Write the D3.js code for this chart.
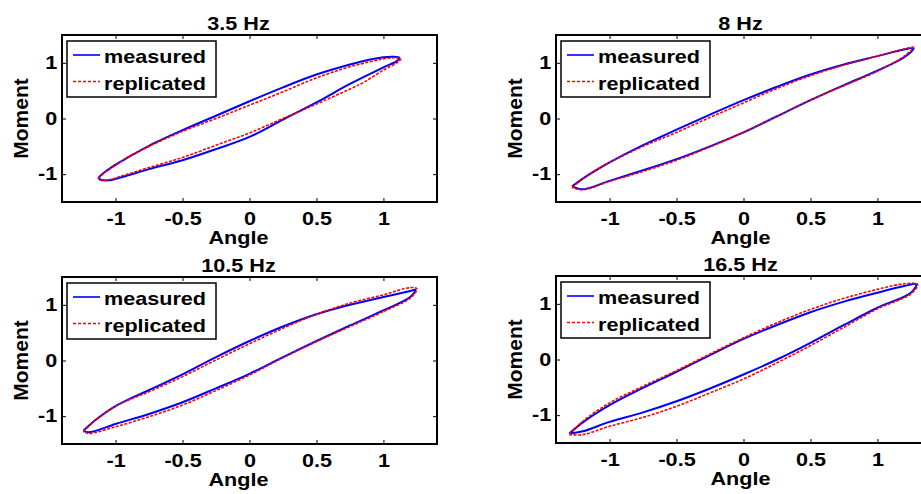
<!DOCTYPE html>
<html>
<head>
<meta charset="utf-8">
<script src="https://cdn.jsdelivr.net/npm/d3@7"></script>
<style>
  body { margin: 0; background: #fff; }
  svg text { font-family: "Liberation Sans", Arial, Helvetica, sans-serif; font-weight: bold; fill: #000; }
</style>
</head>
<body>
<div id="chart"></div>
<script>
// panel titles, ticks and series labels
titles = ["3.5 Hz", "8 Hz", "10.5 Hz", "16.5 Hz"]
xTicks = [-1, -0.5, 0, 0.5, 1]
yTicks = [-1, 0, 1]
xDomain = [-1.4, 1.4]
yDomain = [-1.5, 1.5]
seriesNames = ["measured", "replicated"]

// loops: [angle, moment], left tip -> upper branch -> right tip -> lower branch -> left tip
measured35 = [[-1.13,-1.07],[-1.09,-0.98],[-1.02,-0.86],[-0.9,-0.69],[-0.75,-0.49],[-0.5,-0.21],[-0.25,0.05],[0,0.31],[0.25,0.56],[0.5,0.79],[0.75,0.97],[0.9,1.06],[1.0,1.1],[1.07,1.11],[1.12,1.09],
  [1.1,1.03],[1.0,0.92],[0.75,0.62],[0.5,0.29],[0.25,-0.02],[0,-0.33],[-0.25,-0.55],[-0.5,-0.75],[-0.75,-0.91],[-0.95,-1.05],[-1.05,-1.11],[-1.11,-1.1],[-1.13,-1.07]]
replicated35 = [[-1.13,-1.08],[-1.08,-0.97],[-1.0,-0.84],[-0.9,-0.68],[-0.75,-0.5],[-0.5,-0.23],[-0.25,0.0],[0,0.24],[0.25,0.48],[0.5,0.73],[0.75,0.93],[0.9,1.02],[1.0,1.07],[1.08,1.09],[1.13,1.07],
  [1.1,1.0],[1.0,0.87],[0.86,0.66],[0.75,0.53],[0.5,0.26],[0.25,0.0],[0,-0.26],[-0.25,-0.48],[-0.5,-0.7],[-0.75,-0.88],[-0.95,-1.03],[-1.05,-1.1],[-1.11,-1.11],[-1.13,-1.08]]

measured8 = [[-1.28,-1.22],[-1.2,-1.08],[-1.1,-0.93],[-1.0,-0.79],[-0.75,-0.48],[-0.5,-0.2],[-0.25,0.07],[0,0.33],[0.25,0.57],[0.5,0.79],[0.75,0.97],[1.0,1.12],[1.2,1.24],[1.27,1.26],
  [1.2,1.1],[1.0,0.86],[0.75,0.6],[0.5,0.33],[0.25,0.04],[0,-0.25],[-0.25,-0.5],[-0.5,-0.73],[-0.75,-0.93],[-1.0,-1.12],[-1.2,-1.27],[-1.28,-1.22]]
replicated8 = [[-1.28,-1.24],[-1.2,-1.08],[-1.1,-0.92],[-1.0,-0.79],[-0.75,-0.5],[-0.5,-0.25],[-0.25,0.02],[0,0.28],[0.25,0.54],[0.5,0.77],[0.75,0.96],[1.0,1.12],[1.2,1.25],[1.27,1.28],
  [1.2,1.12],[1.0,0.85],[0.75,0.59],[0.5,0.33],[0.25,0.04],[0,-0.25],[-0.25,-0.51],[-0.5,-0.75],[-0.75,-0.95],[-1.0,-1.13],[-1.2,-1.28],[-1.28,-1.24]]

measured105 = [[-1.24,-1.26],[-1.15,-1.07],[-1.0,-0.82],[-0.75,-0.53],[-0.5,-0.25],[-0.25,0.06],[0,0.35],[0.25,0.61],[0.5,0.83],[0.75,1.0],[1.0,1.14],[1.2,1.25],[1.24,1.27],
  [1.2,1.14],[1.0,0.9],[0.75,0.63],[0.5,0.35],[0.25,0.06],[0,-0.24],[-0.25,-0.5],[-0.5,-0.75],[-0.75,-0.96],[-1.0,-1.14],[-1.2,-1.29],[-1.24,-1.26]]
replicated105 = [[-1.24,-1.28],[-1.15,-1.07],[-1.0,-0.82],[-0.75,-0.56],[-0.5,-0.29],[-0.25,0.01],[0,0.3],[0.25,0.58],[0.5,0.83],[0.75,1.03],[1.0,1.18],[1.2,1.31],[1.25,1.29],
  [1.2,1.12],[1.0,0.88],[0.75,0.61],[0.5,0.34],[0.25,0.05],[0,-0.26],[-0.25,-0.54],[-0.5,-0.8],[-0.75,-1.01],[-1.0,-1.19],[-1.2,-1.31],[-1.24,-1.28]]

measured165 = [[-1.3,-1.33],[-1.2,-1.13],[-1.0,-0.82],[-0.75,-0.51],[-0.5,-0.22],[-0.25,0.08],[0,0.37],[0.25,0.62],[0.5,0.85],[0.75,1.04],[1.0,1.2],[1.2,1.32],[1.29,1.35],
  [1.25,1.2],[1.0,0.93],[0.75,0.62],[0.5,0.3],[0.25,0.0],[0,-0.27],[-0.25,-0.52],[-0.5,-0.75],[-0.75,-0.95],[-1.0,-1.12],[-1.2,-1.29],[-1.3,-1.33]]
replicated165 = [[-1.3,-1.35],[-1.2,-1.11],[-1.0,-0.78],[-0.75,-0.48],[-0.5,-0.2],[-0.25,0.1],[0,0.39],[0.25,0.66],[0.5,0.9],[0.75,1.1],[1.0,1.26],[1.2,1.36],[1.3,1.35],
  [1.25,1.18],[1.0,0.91],[0.75,0.58],[0.5,0.25],[0.25,-0.06],[0,-0.35],[-0.25,-0.6],[-0.5,-0.84],[-0.75,-1.04],[-1.0,-1.2],[-1.2,-1.35],[-1.3,-1.35]]

measuredLoops = [measured35, measured8, measured105, measured165]
replicatedLoops = [replicated35, replicated8, replicated105, replicated165]

width = 921
height = 494
axW = 375
axH = 167
boxes = [{left: 62, top: 35}, {left: 556, top: 35}, {left: 62, top: 277}, {left: 556, top: 276}]
centerShift = [-11, -3, -11, -3]
// horizontal text in the figure is wide and short
stretch = "scale(1.2,1)"
textSize = "18px"

svg = d3.select("#chart").append("svg")
  .attr("width", width)
  .attr("height", height)
  .attr("viewBox", [0, 0, width, height])

boxes.forEach((b, i) => {
  x = d3.scaleLinear().domain(xDomain).range([b.left, b.left + axW])
  y = d3.scaleLinear().domain(yDomain).range([b.top + axH, b.top])
  g = svg.append("g")

  line = d3.line()
    .x(d => x(d[0]))
    .y(d => y(d[1]))
    .curve(d3.curveCatmullRom.alpha(0.5))

  g.append("path")
    .attr("d", line(measuredLoops[i]))
    .attr("fill", "none")
    .attr("stroke", "#0000ff")
    .attr("stroke-width", 2)
  g.append("path")
    .attr("d", line(replicatedLoops[i]))
    .attr("fill", "none")
    .attr("stroke", "#ff0000")
    .attr("stroke-width", 1.6)
    .attr("stroke-dasharray", "3,1.5")

  // axes, MATLAB style: ticks inside on all four sides
  xAxisB = d3.axisBottom(x).tickValues(xTicks).tickSize(-4).tickPadding(8).tickFormat(d => String(d))
  xAxisT = d3.axisTop(x).tickValues(xTicks).tickSize(-4).tickFormat("")
  yAxisL = d3.axisLeft(y).tickValues(yTicks).tickSize(-4).tickPadding(8).tickFormat(d => String(d))
  yAxisR = d3.axisRight(y).tickValues(yTicks).tickSize(-4).tickFormat("")

  g.append("g").attr("transform", `translate(0,${b.top + axH})`).call(xAxisB)
    .call(s => s.selectAll("text").style("font-size", textSize).attr("y", 10).attr("dy", "0.72em").attr("transform", stretch))
  g.append("g").attr("transform", `translate(0,${b.top})`).call(xAxisT)
  g.append("g").attr("transform", `translate(${b.left},0)`).call(yAxisL)
    .call(s => s.selectAll("text").style("font-size", textSize).attr("x", -4).attr("dx", 0).attr("transform", stretch))
  g.append("g").attr("transform", `translate(${b.left + axW},0)`).call(yAxisR)
  g.selectAll(".domain").remove()
  g.selectAll(".tick line").attr("stroke", "#000").attr("stroke-width", 1)
  g.append("rect")
    .attr("x", b.left).attr("y", b.top)
    .attr("width", axW).attr("height", axH)
    .attr("fill", "none").attr("stroke", "#000").attr("stroke-width", 2)

  cx = b.left + axW / 2 + centerShift[i]
  g.append("text")
    .attr("transform", `translate(${cx},${b.top - 5}) ${stretch}`)
    .attr("text-anchor", "middle")
    .style("font-size", textSize)
    .text(titles[i])
  g.append("text")
    .attr("transform", `translate(${cx},${b.top + axH + 42}) ${stretch}`)
    .attr("text-anchor", "middle")
    .style("font-size", textSize)
    .text("Angle")
  g.append("text")
    .attr("transform", `translate(${b.left - 34},${b.top + axH / 2}) rotate(-90)`)
    .attr("text-anchor", "middle")
    .style("font-size", "21px")
    .text("Moment")

  // legend
  lx = b.left + 5
  ly = b.top + 6
  lg = g.append("g").attr("transform", `translate(${lx},${ly})`)
  lg.append("rect")
    .attr("width", 149).attr("height", 56)
    .attr("fill", "#fff").attr("stroke", "#000").attr("stroke-width", 1.5)
  entry = lg.selectAll(".entry")
    .data(seriesNames)
    .enter().append("g")
    .attr("class", "entry")
    .attr("transform", (d, k) => `translate(0,${14 + k * 26.5})`)
  entry.append("line")
    .attr("x1", 6).attr("x2", 33)
    .attr("stroke", (d, k) => k ? "#ff0000" : "#0000ff")
    .attr("stroke-width", (d, k) => k ? 1.3 : 1.6)
    .attr("stroke-dasharray", (d, k) => k ? "3,2" : null)
  entry.append("text")
    .attr("transform", `translate(37,8) ${stretch}`)
    .style("font-size", textSize)
    .text(d => d)
})
</script>
</body>
</html>
